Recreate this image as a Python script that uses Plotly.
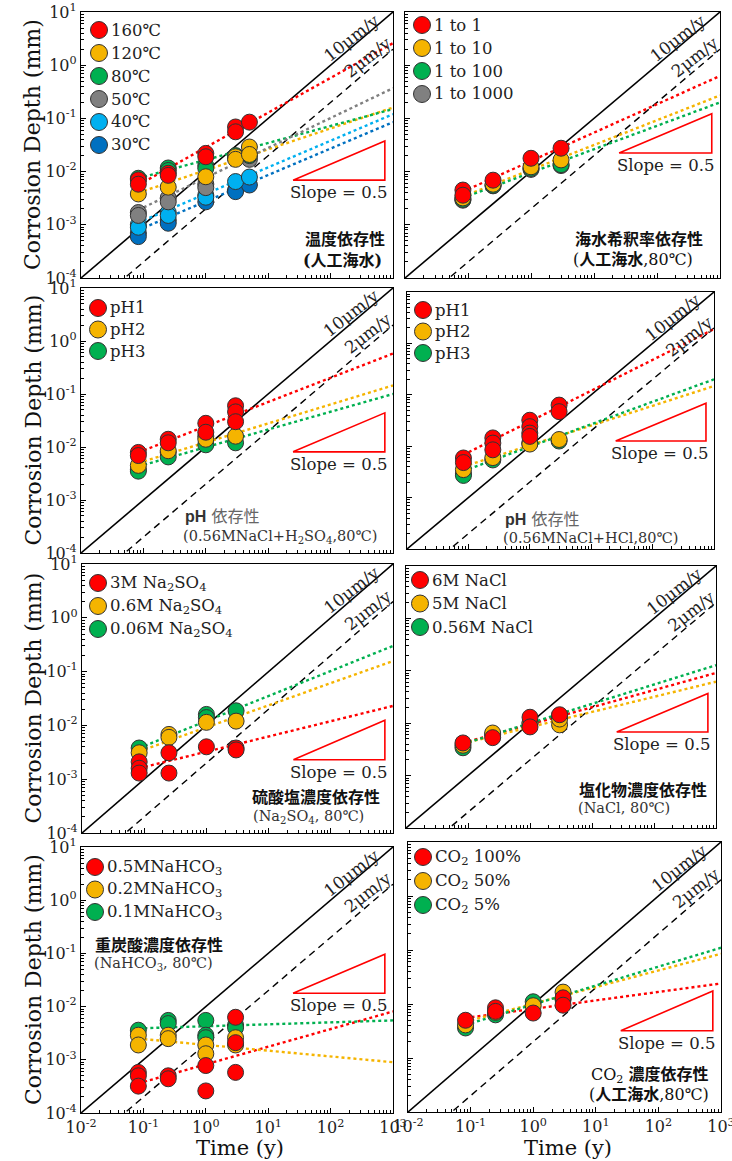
import numpy as np
import plotly.graph_objects as go

W, H = 732, 1161
RED, YEL, GRN, GRY, LBL, DBL = "#FF0000", "#F5B400", "#00B050", "#808080", "#00B0F0", "#0070C0"

# ---------------- DATA ----------------
# Panel 1: temperature dependence (artificial seawater)
p1_names = ["160℃", "120℃", "80℃", "50℃", "40℃", "30℃"]
p1_160_x = [0.083, 0.083, 0.25, 0.25, 1, 1, 3, 3, 5]
p1_160_y = [0.0070, 0.0058, 0.0093, 0.0085, 0.022, 0.019, 0.069, 0.056, 0.085]
p1_120_x = [0.083, 0.25, 1, 3, 3, 5, 5]
p1_120_y = [0.0038, 0.0051, 0.0080, 0.019, 0.017, 0.029, 0.021]
p1_80_x = [0.083, 0.25, 0.25, 1, 1, 3, 5]
p1_80_y = [0.0075, 0.0117, 0.0105, 0.013, 0.0115, 0.020, 0.020]
p1_50_x = [0.083, 0.083, 0.25, 0.25, 1, 1, 3, 5]
p1_50_y = [0.0017, 0.0015, 0.0032, 0.0027, 0.0058, 0.0050, 0.018, 0.017]
p1_40_x = [0.083, 0.083, 0.25, 0.25, 1, 1, 3, 5]
p1_40_y = [0.0010, 0.0009, 0.0017, 0.0015, 0.0036, 0.0033, 0.0065, 0.0079]
p1_30_x = [0.083, 0.083, 0.25, 0.25, 1, 3, 3, 5]
p1_30_y = [0.0007, 0.0006, 0.00123, 0.00107, 0.0027, 0.0045, 0.0042, 0.0056]
p1_fit_start = [0.0056, 0.0040, 0.0075, 0.0019, 0.0011, 0.0008]
p1_fit_end = [2.6, 0.16, 0.15, 0.37, 0.12, 0.085]

# Panel 2: seawater dilution ratio
p2_names = ["1 to 1", "1 to 10", "1 to 100", "1 to 1000"]
p2_1_x = [0.083, 0.083, 0.25, 1, 3]
p2_1_y = [0.0045, 0.0036, 0.0069, 0.0178, 0.0275]
p2_10_x = [0.083, 0.25, 1, 3]
p2_10_y = [0.0032, 0.0058, 0.0123, 0.0166]
p2_100_x = [0.083, 0.25, 1, 3]
p2_100_y = [0.0030, 0.0055, 0.0115, 0.0135]
p2_1000_x = [0.083, 0.25, 1, 3]
p2_1000_y = [0.0029, 0.0054, 0.0110, 0.0130]
p2_fit_start = [0.0042, 0.0034, 0.0032]
p2_fit_end = [0.63, 0.27, 0.20]

# Panel 3: pH (0.56M NaCl + H2SO4)
p3_names = ["pH1", "pH2", "pH3"]
p3_ph1_x = [0.083, 0.083, 0.25, 0.25, 1, 1, 3, 3, 3]
p3_ph1_y = [0.0079, 0.0069, 0.014, 0.012, 0.028, 0.019, 0.060, 0.046, 0.030]
p3_ph2_x = [0.083, 0.25, 1, 1, 3]
p3_ph2_y = [0.0045, 0.0085, 0.016, 0.014, 0.016]
p3_ph3_x = [0.083, 0.083, 0.25, 0.25, 1, 3]
p3_ph3_y = [0.0038, 0.0035, 0.0079, 0.0065, 0.011, 0.012]
p3_fit_start = [0.0079, 0.0050, 0.0043]
p3_fit_end = [0.58, 0.145, 0.10]

# Panel 4: pH (0.56M NaCl + HCl)
p4_names = ["pH1", "pH2", "pH3"]
p4_ph1_x = [0.083, 0.083, 0.25, 0.25, 0.25, 1, 1, 1, 1, 3, 3]
p4_ph1_y = [0.0059, 0.0048, 0.0145, 0.0115, 0.0085, 0.032, 0.024, 0.018, 0.0155, 0.063, 0.047]
p4_ph2_x = [0.083, 0.25, 1, 3]
p4_ph2_y = [0.0035, 0.0060, 0.011, 0.0135]
p4_ph3_x = [0.083, 0.083, 0.25, 1, 3]
p4_ph3_y = [0.0029, 0.0027, 0.0054, 0.0115, 0.0126]
p4_fit_start = [0.0068, 0.0040, 0.0033]
p4_fit_end = [1.9, 0.148, 0.20]

# Panel 5: sulfate concentration
p5_names = ["3M Na<sub>2</sub>SO<sub>4</sub>", "0.6M Na<sub>2</sub>SO<sub>4</sub>", "0.06M Na<sub>2</sub>SO<sub>4</sub>"]
p5_3_x = [0.083, 0.083, 0.083, 0.25, 0.25, 1, 3, 3]
p5_3_y = [0.0021, 0.0016, 0.0013, 0.0031, 0.0013, 0.0040, 0.0038, 0.0035]
p5_06_x = [0.083, 0.25, 0.25, 1, 3]
p5_06_y = [0.0031, 0.0068, 0.0060, 0.0114, 0.012]
p5_006_x = [0.083, 1, 1, 3]
p5_006_y = [0.0038, 0.016, 0.014, 0.0187]
p5_fit_start = [0.0016, 0.0033, 0.0038]
p5_fit_end = [0.023, 0.157, 0.30]

# Panel 6: chloride concentration
p6_names = ["6M NaCl", "5M NaCl", "0.56M NaCl"]
p6_6_x = [0.083, 0.25, 1, 1, 3]
p6_6_y = [0.0042, 0.0053, 0.013, 0.0085, 0.0145]
p6_5_x = [0.083, 0.25, 1, 3, 3]
p6_5_y = [0.0038, 0.0065, 0.010, 0.0093, 0.012]
p6_056_x = [0.083, 0.25, 1, 3]
p6_056_y = [0.0034, 0.0060, 0.0101, 0.014]
p6_fit_start = [0.0042, 0.0041, 0.0040]
p6_fit_end = [0.091, 0.062, 0.128]

# Panel 7: bicarbonate concentration
p7_names = ["0.5MNaHCO<sub>3</sub>", "0.2MNaHCO<sub>3</sub>", "0.1MNaHCO<sub>3</sub>"]
p7_05_x = [0.083, 0.083, 0.083, 0.25, 0.25, 1, 1, 3, 3, 3]
p7_05_y = [0.00058, 0.0005, 0.00032, 0.0005, 0.00044, 0.00078, 0.00026, 0.0063, 0.0021, 0.00058]
p7_02_x = [0.083, 0.083, 0.25, 0.25, 1, 1, 3, 3]
p7_02_y = [0.0029, 0.0019, 0.0029, 0.0025, 0.0019, 0.0013, 0.0026, 0.0019]
p7_01_x = [0.083, 0.25, 0.25, 1, 1, 1, 3, 3]
p7_01_y = [0.0036, 0.0055, 0.0048, 0.0055, 0.0029, 0.0026, 0.0045, 0.0040]
p7_fit_start = [0.00036, 0.0025, 0.0039]
p7_fit_end = [0.0081, 0.0009, 0.0055]

# Panel 8: CO2 concentration
p8_names = ["CO<sub>2</sub> 100%", "CO<sub>2</sub> 50%", "CO<sub>2</sub> 5%"]
p8_100_x = [0.083, 0.25, 0.25, 1, 3, 3]
p8_100_y = [0.0050, 0.0085, 0.0073, 0.0068, 0.013, 0.0095]
p8_50_x = [0.083, 0.25, 1, 3]
p8_50_y = [0.0041, 0.0070, 0.0093, 0.0166]
p8_5_x = [0.083, 0.25, 1, 3]
p8_5_y = [0.0036, 0.0063, 0.011, 0.012]
p8_fit_start = [0.0055, 0.0047, 0.0041]
p8_fit_end = [0.024, 0.085, 0.11]

fit_x = [0.083, 1000]
rate_10 = 0.010   # mm/y (10 um/y)
rate_2 = 0.002    # mm/y (2 um/y)
time_grid = [0.01, 1000]
slope_tri_x = [25, 740]
slope_tri_base = [0.0069, 0.0224, 0.0081, 0.0126, 0.0023, 0.0068, 0.0178, 0.0032]

x_tickvals = [0.01, 0.1, 1, 10, 100, 1000]
x_ticktext = ["10<sup>-2</sup>", "10<sup>-1</sup>", "10<sup>0</sup>", "10<sup>1</sup>", "10<sup>2</sup>", "10<sup>3</sup>"]
y_tickvals = [1e-4, 1e-3, 1e-2, 1e-1, 1, 10]
y_ticktext = ["10<sup>-4</sup>", "10<sup>-3</sup>", "10<sup>-2</sup>", "10<sup>-1</sup>", "10<sup>0</sup>", "10<sup>1</sup>"]

# ---------------- LAYOUT HELPERS ----------------
SERIF = "DejaVu Serif, Noto Sans CJK JP"

panels = [
    dict(series=[(p1_names[0], RED, p1_160_x, p1_160_y), (p1_names[1], YEL, p1_120_x, p1_120_y),
                 (p1_names[2], GRN, p1_80_x, p1_80_y), (p1_names[3], GRY, p1_50_x, p1_50_y),
                 (p1_names[4], LBL, p1_40_x, p1_40_y), (p1_names[5], DBL, p1_30_x, p1_30_y)],
         fits=list(zip([RED, YEL, GRN, GRY, LBL, DBL], p1_fit_start, p1_fit_end))),
    dict(series=[(p2_names[0], RED, p2_1_x, p2_1_y), (p2_names[1], YEL, p2_10_x, p2_10_y),
                 (p2_names[2], GRN, p2_100_x, p2_100_y), (p2_names[3], GRY, p2_1000_x, p2_1000_y)],
         fits=list(zip([RED, YEL, GRN], p2_fit_start, p2_fit_end))),
    dict(series=[(p3_names[0], RED, p3_ph1_x, p3_ph1_y), (p3_names[1], YEL, p3_ph2_x, p3_ph2_y),
                 (p3_names[2], GRN, p3_ph3_x, p3_ph3_y)],
         fits=list(zip([RED, YEL, GRN], p3_fit_start, p3_fit_end))),
    dict(series=[(p4_names[0], RED, p4_ph1_x, p4_ph1_y), (p4_names[1], YEL, p4_ph2_x, p4_ph2_y),
                 (p4_names[2], GRN, p4_ph3_x, p4_ph3_y)],
         fits=list(zip([RED, YEL, GRN], p4_fit_start, p4_fit_end))),
    dict(series=[(p5_names[0], RED, p5_3_x, p5_3_y), (p5_names[1], YEL, p5_06_x, p5_06_y),
                 (p5_names[2], GRN, p5_006_x, p5_006_y)],
         fits=list(zip([RED, YEL, GRN], p5_fit_start, p5_fit_end))),
    dict(series=[(p6_names[0], RED, p6_6_x, p6_6_y), (p6_names[1], YEL, p6_5_x, p6_5_y),
                 (p6_names[2], GRN, p6_056_x, p6_056_y)],
         fits=list(zip([RED, YEL, GRN], p6_fit_start, p6_fit_end))),
    dict(series=[(p7_names[0], RED, p7_05_x, p7_05_y), (p7_names[1], YEL, p7_02_x, p7_02_y),
                 (p7_names[2], GRN, p7_01_x, p7_01_y)],
         fits=list(zip([RED, YEL, GRN], p7_fit_start, p7_fit_end))),
    dict(series=[(p8_names[0], RED, p8_100_x, p8_100_y), (p8_names[1], YEL, p8_50_x, p8_50_y),
                 (p8_names[2], GRN, p8_5_x, p8_5_y)],
         fits=list(zip([RED, YEL, GRN], p8_fit_start, p8_fit_end))),
]

# pixel boxes (left, right, top, bottom)
boxes = [(81, 393, 12, 278), (405, 720, 12, 278),
         (81, 393, 288, 553), (407, 714, 292, 549),
         (82, 393, 564, 833), (406, 716, 566, 828),
         (81, 393, 847, 1113), (408, 721, 842, 1112)]
# legend: circle centre x, first y, spacing
legends = [(99, 30, 23), (422, 25, 23), (98, 308, 21.5), (423, 310, 21.5),
           (98, 583, 23), (420, 580, 23.5), (95, 867, 22.5), (423, 857, 24)]

def px(x):
    return x / W

def py(y):
    return 1 - y / H

minor_x = [k * 10.0 ** e for e in range(-2, 3) for k in range(2, 10)]
minor_y = [k * 10.0 ** e for e in range(-4, 1) for k in range(2, 10)]

fig = go.Figure()
annotations = []
shapes = []

for i, (pan, box) in enumerate(zip(panels, boxes)):
    n = i + 1
    xa = "x" if n == 1 else f"x{n}"
    ya = "y" if n == 1 else f"y{n}"
    l, r, t, b = box
    left_col = (i % 2 == 0)
    bottom_row = (i >= 6)
    fig.layout[f"xaxis{'' if n == 1 else n}"] = dict(
        type="log", range=[-2, 3], domain=[px(l), px(r)], anchor=ya, automargin=False,
        showline=True, linecolor="black", linewidth=1.3, mirror=True,
        ticks="inside", ticklen=5, tickwidth=1, tickcolor="black",
        tickmode="array", tickvals=x_tickvals, ticktext=x_ticktext,
        showticklabels=bottom_row, showgrid=False, zeroline=False, ticklabeloverflow="allow",
        tickfont=dict(family=SERIF, size=16, color="#222"),
        minor=dict(tickmode="array", tickvals=minor_x, ticks="inside", ticklen=2.5,
                   tickwidth=1, tickcolor="black", showgrid=False),
    )
    fig.layout[f"yaxis{'' if n == 1 else n}"] = dict(
        type="log", range=[-4, 1], domain=[py(b), py(t)], anchor=xa, automargin=False,
        showline=True, linecolor="black", linewidth=1.3, mirror=True,
        ticks="inside", ticklen=5, tickwidth=1, tickcolor="black",
        tickmode="array", tickvals=y_tickvals, ticktext=y_ticktext,
        showticklabels=left_col, showgrid=False, zeroline=False, ticklabeloverflow="allow",
        tickfont=dict(family=SERIF, size=16, color="#222"),
        minor=dict(tickmode="array", tickvals=minor_y, ticks="inside", ticklen=2.5,
                   tickwidth=1, tickcolor="black", showgrid=False),
    )
    # reference rate lines
    fig.add_trace(go.Scatter(x=time_grid, y=[rate_10 * v for v in time_grid], mode="lines",
                             line=dict(color="black", width=1.6), xaxis=xa, yaxis=ya,
                             showlegend=False, hoverinfo="skip"))
    fig.add_trace(go.Scatter(x=time_grid, y=[rate_2 * v for v in time_grid], mode="lines",
                             line=dict(color="black", width=1.4, dash="7px,5px"), xaxis=xa, yaxis=ya,
                             showlegend=False, hoverinfo="skip"))
    # slope triangle
    x0, x1 = slope_tri_x
    b0 = slope_tri_base[i]
    top = b0 * (x1 / x0) ** 0.5
    fig.add_trace(go.Scatter(x=[x0, x1, x1, x0], y=[b0, b0, top, b0], mode="lines",
                             line=dict(color="#FF0000", width=1.6), xaxis=xa, yaxis=ya,
                             showlegend=False, hoverinfo="skip"))
    annotations.append(dict(x=np.log10(x1), y=np.log10(b0), xref=xa, yref=ya,
                            text="Slope = 0.5", showarrow=False, xanchor="right", yanchor="top",
                            xshift=4, yshift=-1,
                            font=dict(family=SERIF, size=16.5, color="#222")))
    # fit lines
    for col, s0, s1 in pan["fits"]:
        fig.add_trace(go.Scatter(x=fit_x, y=[s0, s1], mode="lines",
                                 line=dict(color=col, width=2.4, dash="dot"),
                                 xaxis=xa, yaxis=ya, showlegend=False, hoverinfo="skip"))
    # data points (draw last series first so first is on top)
    for name, col, xs, ys in reversed(pan["series"]):
        fig.add_trace(go.Scatter(x=xs, y=ys, mode="markers", name=name,
                                 marker=dict(size=16, color=col, line=dict(color="#333", width=1)),
                                 xaxis=xa, yaxis=ya, showlegend=False))
    # legend
    lx, ly, dy = legends[i]
    for k, (name, col, xs, ys) in enumerate(pan["series"]):
        cy = ly + k * dy
        shapes.append(dict(type="circle", xref="paper", yref="paper",
                           xsizemode="pixel", ysizemode="pixel",
                           xanchor=px(lx), yanchor=py(cy), x0=-8.5, x1=8.5, y0=-8.5, y1=8.5,
                           fillcolor=col, line=dict(color="#333", width=1)))
        annotations.append(dict(x=px(lx + 10), y=py(cy), xref="paper", yref="paper",
                                text=name, showarrow=False, xanchor="left", yanchor="middle",
                                font=dict(family=SERIF, size=16.5, color="#222")))
    # rate line labels
    annotations.append(dict(x=2.33, y=0.52, xref=xa, yref=ya, text="10μm/y", showarrow=False,
                            textangle=-38, font=dict(family=SERIF, size=17, color="#222")))
    annotations.append(dict(x=2.6, y=0.15, xref=xa, yref=ya, text="2μm/y", showarrow=False,
                            textangle=-38, font=dict(family=SERIF, size=17, color="#222")))

# panel captions (pixel positions)
def cap(x, y, text, size=16, anchor="left", color="#111"):
    annotations.append(dict(x=px(x), y=py(y), xref="paper", yref="paper", text=text,
                            showarrow=False, xanchor=anchor, yanchor="middle", align="left",
                            font=dict(family=SERIF, size=size, color=color)))

PH = "<b><span style='font-family:Liberation Sans'>pH</span></b> <span style='color:#666'>依存性</span>"
cap(303, 240, "<b>温度依存性</b>")
cap(301, 261, "<b>(人工海水)</b>")
cap(573, 239, "<b>海水希釈率依存性</b>")
cap(571, 259, "(<b>人工海水</b>,80℃)")
cap(183, 517, PH, color="#333")
cap(181, 537, "(0.56MNaCl+H<sub>2</sub>SO<sub>4</sub>,80℃)", size=14.5, color="#333")
cap(503, 519, PH, color="#333")
cap(501, 538, "(0.56MNaCl+HCl,80℃)", size=14.5, color="#333")
cap(250, 797, "<b>硫酸塩濃度依存性</b>")
cap(251, 817, "(Na<sub>2</sub>SO<sub>4</sub>, 80℃)", size=14.5, color="#333")
cap(577, 790, "<b>塩化物濃度依存性</b>")
cap(576, 808, "(NaCl, 80℃)", size=14.5, color="#333")
cap(93, 945, "<b>重炭酸濃度依存性</b>")
cap(92, 964, "(NaHCO<sub>3</sub>, 80℃)", size=14.5, color="#333")
cap(589, 1075, "CO<sub>2</sub> <b>濃度依存性</b>")
cap(587, 1094, "(<b>人工海水</b>,80℃)")

# axis titles
for i in (0, 2, 4, 6):
    l, r, t, b = boxes[i]
    annotations.append(dict(x=px(33), y=py((t + b) / 2), xref="paper", yref="paper",
                            text="Corrosion Depth (mm)", showarrow=False, textangle=-90,
                            xanchor="center", yanchor="middle",
                            font=dict(family=SERIF, size=22, color="#111")))
for i in (6, 7):
    l, r, t, b = boxes[i]
    annotations.append(dict(x=px((l + r) / 2 + 3), y=py(1148), xref="paper", yref="paper",
                            text="Time (y)", showarrow=False, xanchor="center", yanchor="middle",
                            font=dict(family=SERIF, size=21, color="#111")))

fig.update_layout(width=W, height=H, margin=dict(l=0, r=0, t=0, b=0, autoexpand=False),
                  paper_bgcolor="white", plot_bgcolor="white", showlegend=False,
                  annotations=annotations, shapes=shapes)
fig.write_html("out.html", config={"displayModeBar": False},
               post_script="document.body.style.margin='0';document.body.style.overflow='hidden';")
